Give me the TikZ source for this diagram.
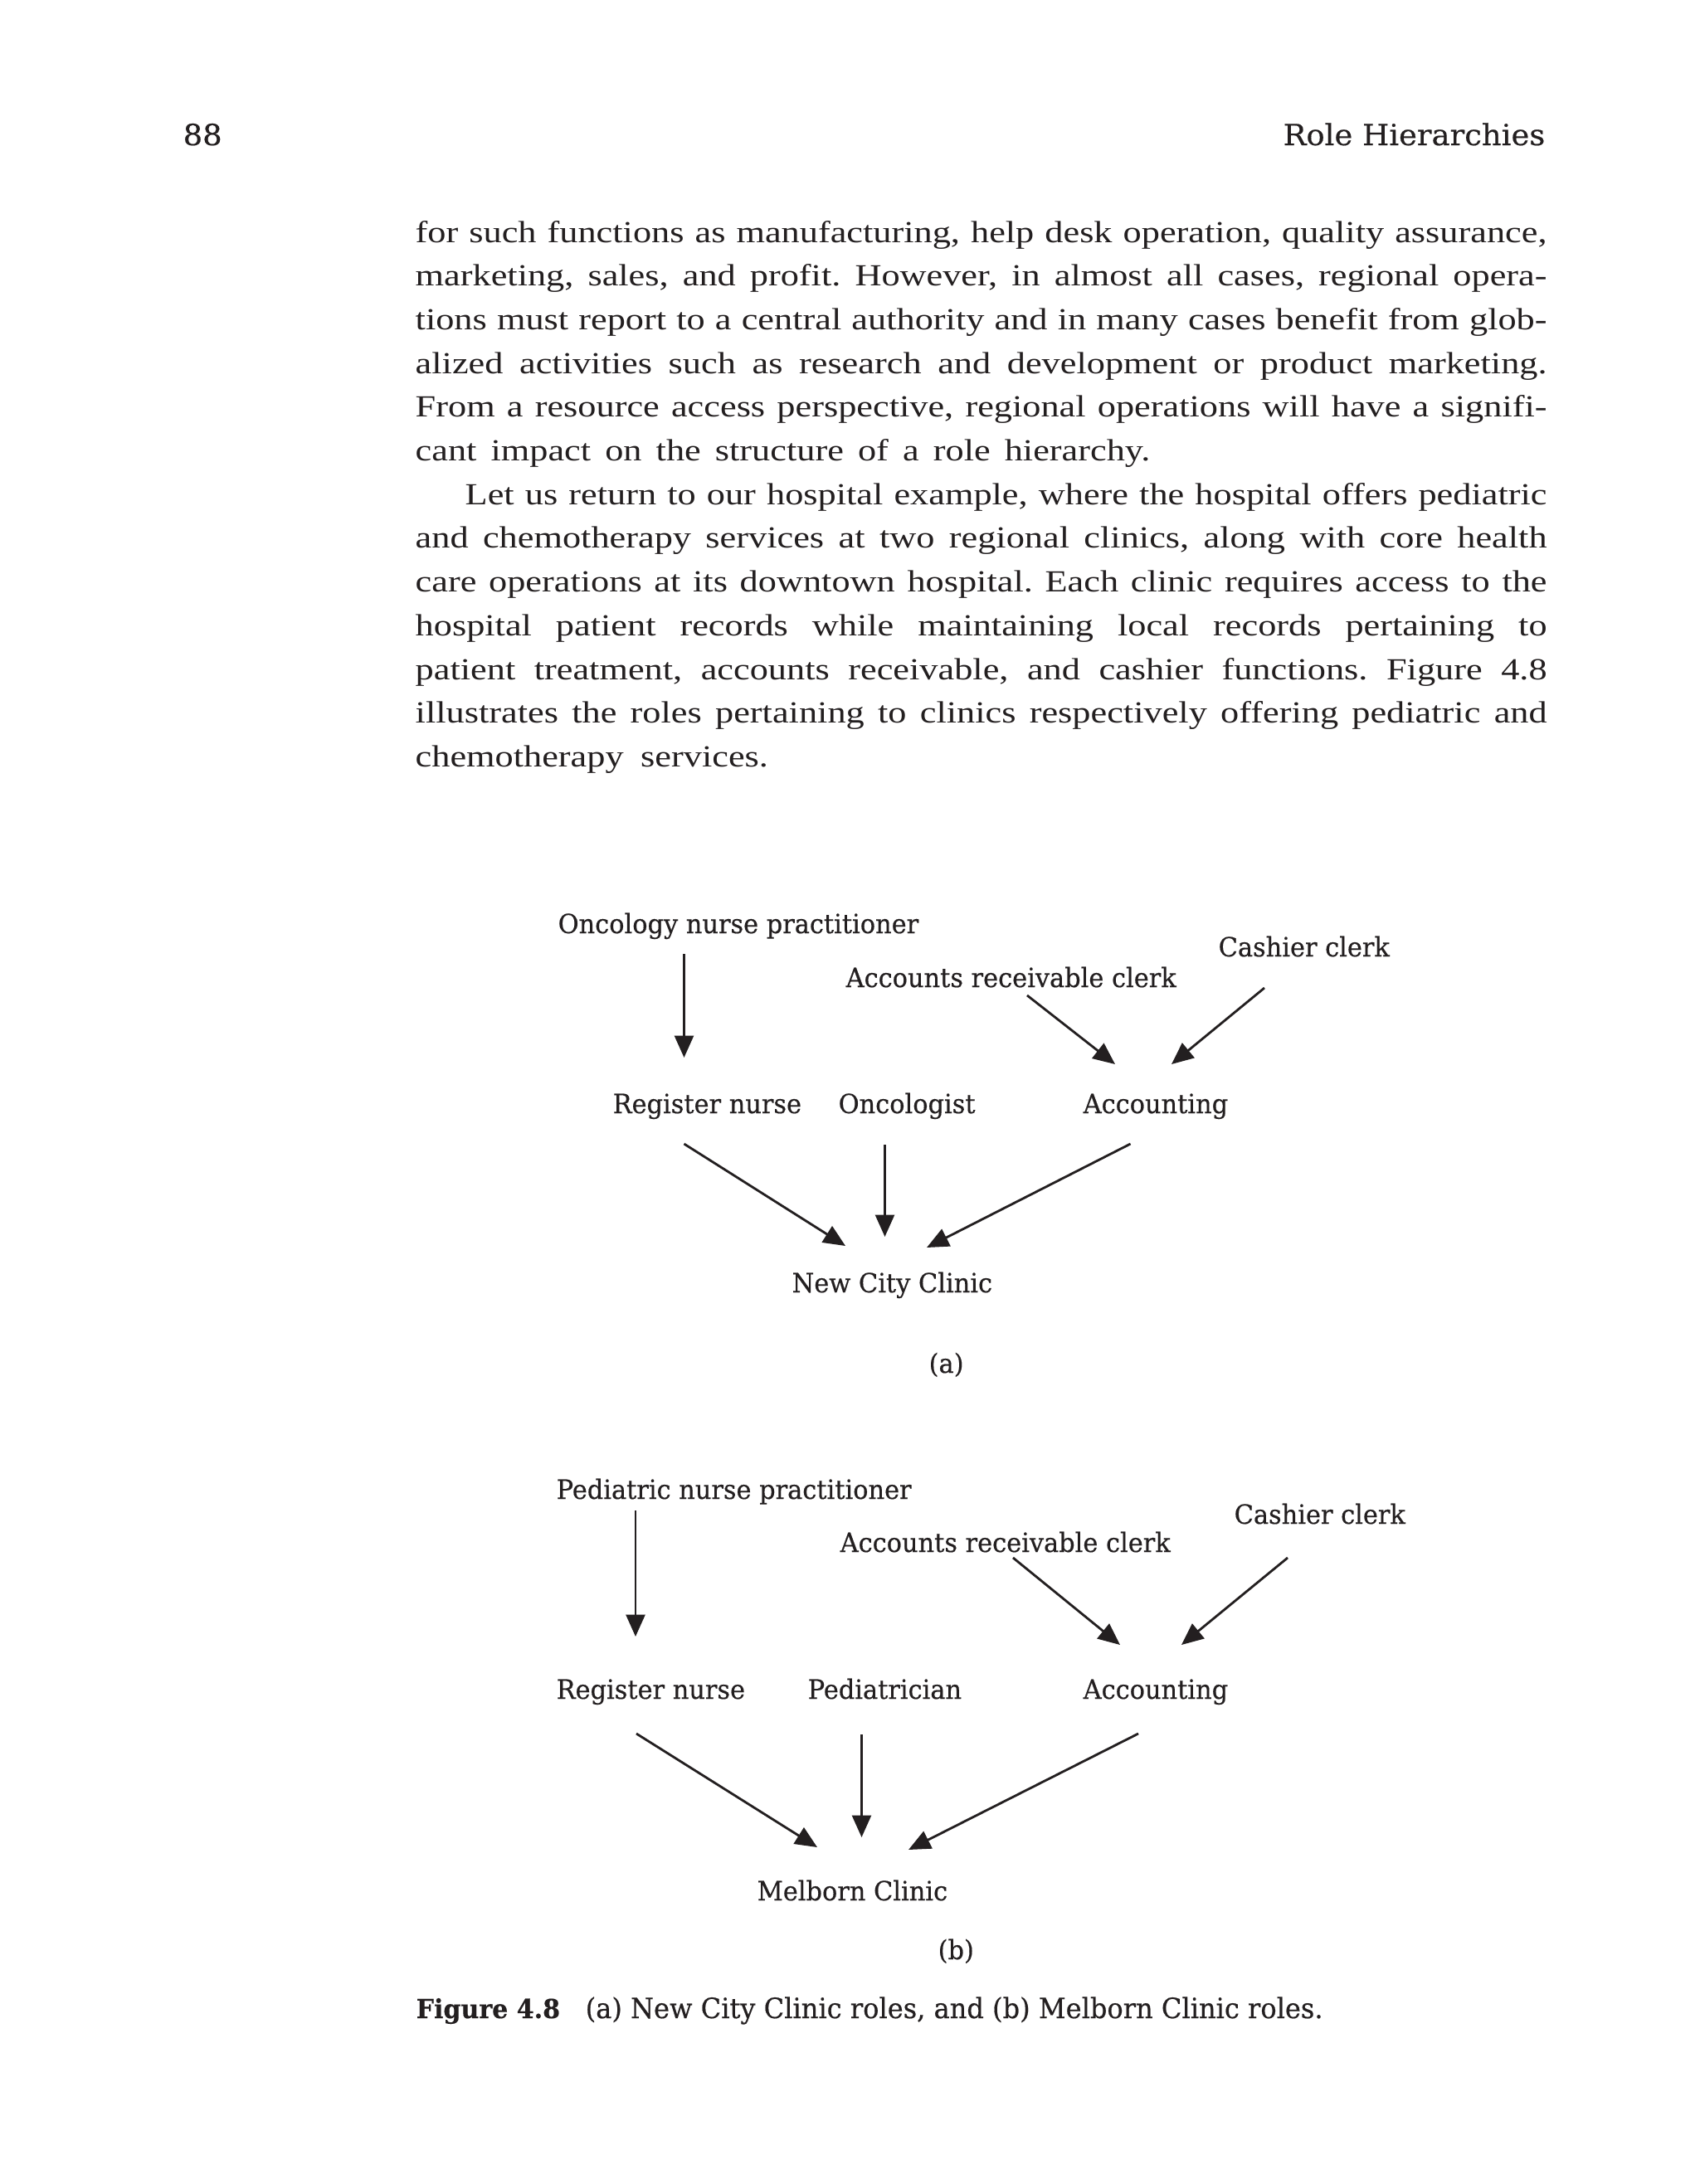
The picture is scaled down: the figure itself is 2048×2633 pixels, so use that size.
\documentclass[tikz,border=0pt]{standalone}
\usepackage{fontspec}
\setmainfont{Liberation Serif}
\newfontfamily\bodyfont[FakeStretch=1.2]{Liberation Serif}
\newfontfamily\slab[FakeStretch=0.95,FakeBold=0.4]{DejaVu Serif}
\newfontfamily\slabw[FakeStretch=1.05,FakeBold=0.4]{DejaVu Serif}
\usetikzlibrary{arrows.meta}
\definecolor{ink}{HTML}{231F20}
\tikzset{
  body/.style={anchor=base west, inner sep=0pt, font=\bodyfont\frenchspacing\fontsize{10.5pt}{12pt}\selectfont, text=ink},
  lbl/.style={anchor=base west, inner sep=0pt, font=\slab\fontsize{9.1pt}{11pt}\selectfont, text=ink},
  hdr/.style={inner sep=0pt, font=\slabw\fontsize{10pt}{12pt}\selectfont, text=ink},
  captext/.style={anchor=base west, inner sep=0pt, font=\slab\fontsize{9.6pt}{11pt}\selectfont, text=ink},
  arr/.style={draw=ink, line width=0.8pt, -{Triangle[length=7.5pt,width=6.5pt]}}
}
\newcommand{\jl}[1]{\makebox[13.63cm][s]{#1}}
\begin{document}
\begin{tikzpicture}[x=0.01cm,y=-0.01cm]
\useasboundingbox[fill=white] (0,0) rectangle (2048,2633);
% header
\node[hdr, anchor=base west] (pg) at (220,175) {88};
\node[hdr, anchor=base east] (rh) at (1863,175) {Role Hierarchies};
% body text
\node[body] (l1) at (500,292.0) {\jl{for such functions as manufacturing, help desk operation, quality assurance,}};
\node[body] (l2) at (500,344.7) {\jl{marketing, sales, and profit. However, in almost all cases, regional opera-}};
\node[body] (l3) at (500,397.4) {\jl{tions must report to a central authority and in many cases benefit from glob-}};
\node[body] (l4) at (500,450.1) {\jl{alized activities such as research and development or product marketing.}};
\node[body] (l5) at (500,502.8) {\jl{From a resource access perspective, regional operations will have a signifi-}};
\node[body] (l6) at (500,555.5) {\makebox[8.85cm][s]{cant impact on the structure of a role hierarchy.}};
\node[body] (l7) at (560,608.2) {\makebox[13.03cm][s]{Let us return to our hospital example, where the hospital offers pediatric}};
\node[body] (l8) at (500,660.9) {\jl{and chemotherapy services at two regional clinics, along with core health}};
\node[body] (l9) at (500,713.6) {\jl{care operations at its downtown hospital. Each clinic requires access to the}};
\node[body] (l10) at (500,766.3) {\jl{hospital patient records while maintaining local records pertaining to}};
\node[body] (l11) at (500,819.0) {\jl{patient treatment, accounts receivable, and cashier functions. Figure 4.8}};
\node[body] (l12) at (500,871.7) {\jl{illustrates the roles pertaining to clinics respectively offering pediatric and}};
\node[body] (l13) at (500,924.4) {\makebox[4.25cm][s]{chemotherapy services.}};
% panel (a)
\node[lbl] (onp) at (672,1125) {Oncology nurse practitioner};
\node[lbl] (cc1) at (1468,1153) {Cashier clerk};
\node[lbl] (arc1) at (1019,1190) {Accounts receivable clerk};
\node[lbl] (rn1) at (738,1342) {Register nurse};
\node[lbl] (onc) at (1010,1342) {Oncologist};
\node[lbl] (acc1) at (1305,1342) {Accounting};
\node[lbl] (ncc) at (954,1558) {New City Clinic};
\node[lbl] (la) at (1119,1655) {(a)};
\draw[arr] ([shift={(152.5,25)}]onp.base west) -- ([shift={(86.5,-67)}]rn1.base west);
\draw[arr] ([shift={(219,10)}]arc1.base west) -- ([shift={(39,-59)}]acc1.base west);
\draw[arr] ([shift={(56,38)}]cc1.base west) -- ([shift={(107,-59)}]acc1.base west);
\draw[arr] ([shift={(86.5,37)}]rn1.base west) -- ([shift={(65,-56)}]ncc.base west);
\draw[arr] ([shift={(56.5,38)}]onc.base west) -- ([shift={(112.5,-67)}]ncc.base west);
\draw[arr] ([shift={(57.5,37)}]acc1.base west) -- ([shift={(163,-54)}]ncc.base west);
% panel (b)
\node[lbl] (pnp) at (670,1807) {Pediatric nurse practitioner};
\node[lbl] (cc2) at (1487,1837) {Cashier clerk};
\node[lbl] (arc2) at (1012,1871) {Accounts receivable clerk};
\node[lbl] (rn2) at (670,2048) {Register nurse};
\node[lbl] (ped) at (973,2048) {Pediatrician};
\node[lbl] (acc2) at (1305,2048) {Accounting};
\node[lbl] (mc) at (912,2291) {Melborn Clinic};
\node[lbl] (lb) at (1130,2362) {(b)};
\draw[arr] ([shift={(96,14)}]pnp.base west) -- ([shift={(96,-75)}]rn2.base west);
\draw[arr] ([shift={(209,7)}]arc2.base west) -- ([shift={(45,-65)}]acc2.base west);
\draw[arr] ([shift={(65,41)}]cc2.base west) -- ([shift={(119,-65)}]acc2.base west);
\draw[arr] ([shift={(97,42)}]rn2.base west) -- ([shift={(73,-64)}]mc.base west);
\draw[arr] ([shift={(65.5,43)}]ped.base west) -- ([shift={(126.5,-76)}]mc.base west);
\draw[arr] ([shift={(67,42)}]acc2.base west) -- ([shift={(183,-61)}]mc.base west);
% caption
\node[captext, font=\slab\bfseries\fontsize{9pt}{11pt}\selectfont] (capf) at (501,2433) {Figure 4.8};
\node[captext] (capt) at (705,2433) {(a) New City Clinic roles, and (b) Melborn Clinic roles.};
\end{tikzpicture}
\end{document}
